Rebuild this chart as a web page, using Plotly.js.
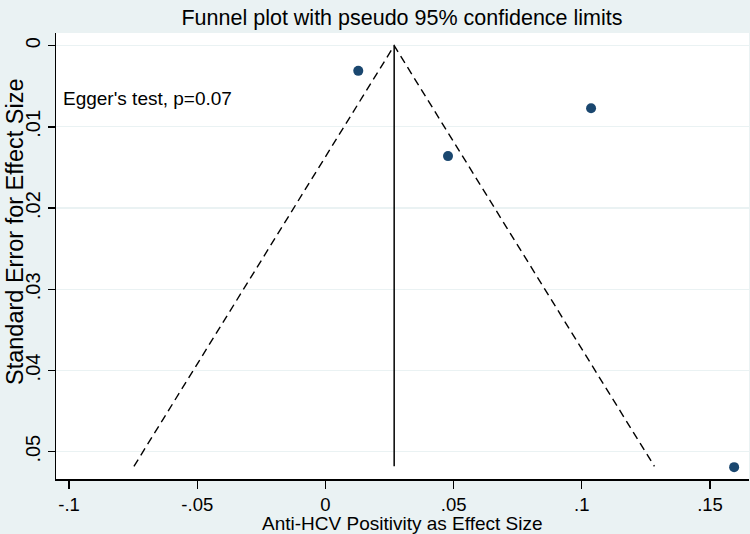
<!DOCTYPE html>
<html>
<head>
<meta charset="utf-8">
<script src="https://cdn.plot.ly/plotly-3.0.1.min.js"></script>
<style>html,body{margin:0;padding:0;background:#EAF2F3;}#chart{width:750px;height:534px;}</style>
</head>
<body>
<div id="chart"></div>
<script>
// Study estimates (effect size) and their standard errors
const effectSize = [0.0128, 0.0478, 0.1036, 0.1594];
const standardError = [0.0031, 0.0136, 0.0077, 0.0519];

// Pooled estimate line and pseudo 95% confidence limits
const pooledX = [0.0268, 0.0268];
const pooledY = [0, 0.0518];
const funnelX = [-0.0747, 0.0268, 0.1283];
const funnelY = [0.0518, 0, 0.0518];

const xTickVals = [-0.1, -0.05, 0, 0.05, 0.1, 0.15];
const xTickText = ["-.1", "-.05", "0", ".05", ".1", ".15"];
const yTickVals = [0, 0.01, 0.02, 0.03, 0.04, 0.05];
const yTickText = ["0", ".01", ".02", ".03", ".04", ".05"];

const titleText = "Funnel plot with pseudo 95% confidence limits";
const xTitleText = "Anti-HCV Positivity as Effect Size";
const yTitleText = "Standard Error for Effect Size";
const noteText = "Egger's test, p=0.07";

const FONT = "Liberation Sans, Arial, sans-serif";

const traces = [
  {x: funnelX, y: funnelY, type: "scatter", mode: "lines",
   line: {color: "#000000", width: 1.4, dash: "8px,5px"}, hoverinfo: "skip", showlegend: false},
  {x: pooledX, y: pooledY, type: "scatter", mode: "lines",
   line: {color: "#000000", width: 1.5}, hoverinfo: "skip", showlegend: false},
  {x: effectSize, y: standardError, type: "scatter", mode: "markers",
   marker: {color: "#1a476f", size: 10}, showlegend: false}
];

const layout = {
  width: 750, height: 534,
  paper_bgcolor: "#EAF2F3", plot_bgcolor: "#FFFFFF",
  margin: {l: 56, r: 1, t: 33, b: 55},
  font: {family: FONT, color: "#000000", size: 18},
  title: {text: titleText,
          font: {family: FONT, size: 21.5, color: "#000000"},
          x: 0.536, xanchor: "center", y: 0.967, yanchor: "middle"},
  xaxis: {range: [-0.1051, 0.1652], tickvals: xTickVals, ticktext: xTickText,
          showgrid: false, zeroline: false, showline: true, linecolor: "#000000", linewidth: 1.5,
          ticks: "outside", ticklen: 8, tickwidth: 1.3, tickcolor: "#000000",
          tickfont: {family: FONT, size: 18.5}},
  yaxis: {range: [0.05336, -0.00156], tickvals: yTickVals, ticktext: yTickText, tickangle: -90,
          showgrid: true, gridcolor: "#EAF2F3", gridwidth: 1.2, zeroline: false,
          showline: true, linecolor: "#000000", linewidth: 1.5,
          ticks: "outside", ticklen: 7, tickwidth: 1.3, tickcolor: "#000000",
          tickfont: {family: FONT, size: 20}},
  annotations: [
    {text: noteText, x: -0.1030, y: 0.0065, xref: "x", yref: "y",
     xanchor: "left", yanchor: "middle", showarrow: false,
     font: {family: FONT, size: 19, color: "#000000"}},
    {text: xTitleText, x: 0.5, y: -0.099, xref: "paper", yref: "paper",
     xanchor: "center", yanchor: "middle", showarrow: false,
     font: {family: FONT, size: 19, color: "#000000"}},
    {text: yTitleText, x: -0.059, y: 0.554, xref: "paper", yref: "paper", textangle: -90,
     xanchor: "center", yanchor: "middle", showarrow: false,
     font: {family: FONT, size: 23.5, color: "#000000"}}
  ]
};

Plotly.newPlot("chart", traces, layout, {displayModeBar: false, staticPlot: true});
</script>
</body>
</html>
